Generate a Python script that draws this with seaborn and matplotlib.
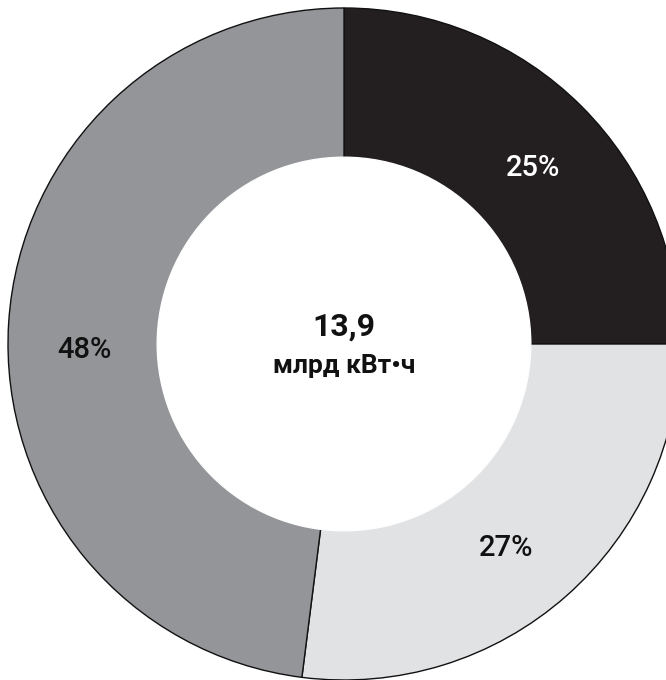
import matplotlib
matplotlib.use('Agg')
import matplotlib.pyplot as plt
import seaborn as sns

# доли выработки, по часовой стрелке от 12 часов
shares = [25, 27, 48]
labels = ["25%", "27%", "48%"]
colors = ["#231f20", "#e1e2e3", "#939598"]
label_colors = ["white", "#111111", "#111111"]
total_value = "13,9"
total_unit = "млрд кВт•ч"

sns.set_theme(style="white")
plt.rcParams['font.family'] = ['Roboto', 'DejaVu Sans']

fig = plt.figure(figsize=(6.66, 6.80), dpi=100)
ax = fig.add_axes([0, 0, 1, 1])

# координаты осей в пикселях картинки (y вверх)
cx, cy, r, r_in = 344, 680 - 344, 336, 186
wedges, _ = ax.pie(shares, colors=colors, startangle=90, counterclock=False,
                   center=(cx, cy), radius=r,
                   wedgeprops=dict(width=r - r_in, edgecolor="#111111", linewidth=1))
# убираем контур внутреннего отверстия
ax.add_patch(plt.Circle((cx, cy), r_in + 0.8, color="white", zorder=3))

# подписи процентов
label_pos = [(533, 680 - 168), (506, 680 - 548), (84, 680 - 350)]
for (x, y), txt, c in zip(label_pos, labels, label_colors):
    ax.text(x, y, txt, ha='center', va='center', fontsize=21,
            fontweight='medium', color=c, zorder=4)

ax.text(cx, 680 - 327, total_value, ha='center', va='center', fontsize=23,
        fontweight='bold', color="#111111", zorder=4)
ax.text(cx, 680 - 366, total_unit, ha='center', va='center', fontsize=19,
        fontweight='bold', color="#111111", zorder=4)

ax.set_xlim(0, 666)
ax.set_ylim(0, 680)
ax.set_aspect('equal')
ax.axis('off')

plt.savefig("out.png", dpi=100)
plt.close()
